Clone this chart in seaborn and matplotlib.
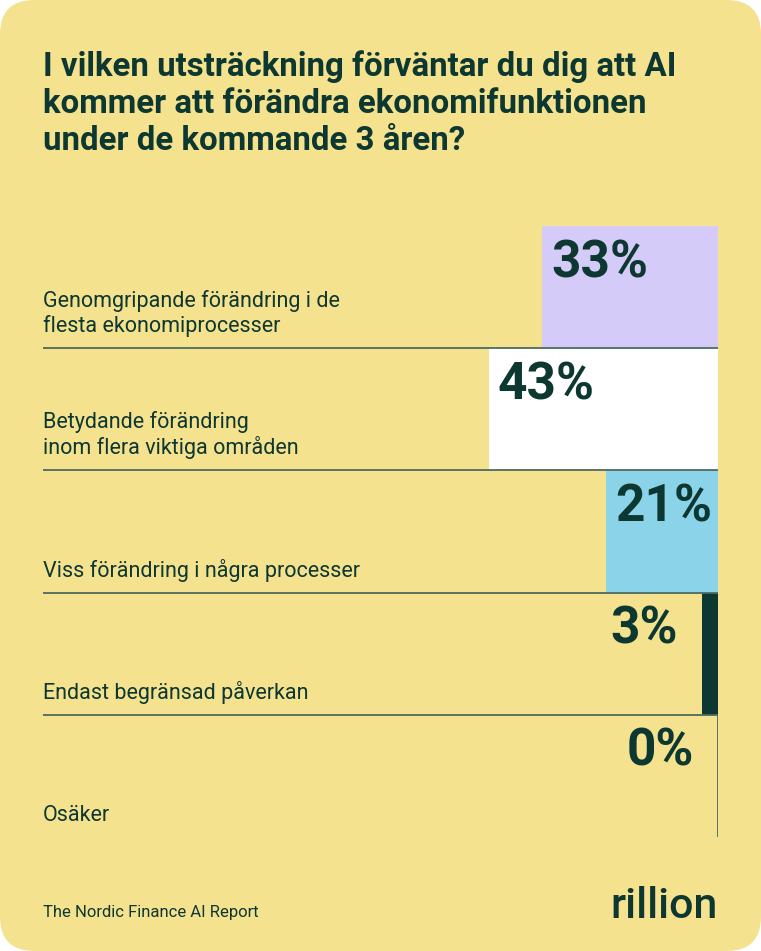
import matplotlib
matplotlib.use("Agg")
import matplotlib.pyplot as plt
from matplotlib.patches import FancyBboxPatch
import seaborn as sns
import pandas as pd

# ---- data ----
categories = [
    "Genomgripande förändring i de\nflesta ekonomiprocesser",
    "Betydande förändring\ninom flera viktiga områden",
    "Viss förändring i några processer",
    "Endast begränsad påverkan",
    "Osäker",
]
values = [33, 43, 21, 3, 0]
bar_colors = ["#D5CBF8", "#FFFFFF", "#8AD3E9", "#0D3731", "#0D3731"]
title = "I vilken utsträckning förväntar du dig att AI\nkommer att förändra ekonomifunktionen\nunder de kommande 3 åren?"
footer = "The Nordic Finance AI Report"
brand = "rillion"

BG = "#F5E28F"
DARK = "#0D3731"
LINE = "#4D6B60"

W, H = 761, 951
sns.set_theme(style="white")
plt.rcParams["font.family"] = ["Roboto", "DejaVu Sans"]

fig = plt.figure(figsize=(W / 100, H / 100), dpi=100)
fig.patch.set_facecolor("white")
card = FancyBboxPatch((0, 0), 1, 1, boxstyle="round,pad=0,rounding_size=0.045",
                      transform=fig.transFigure, facecolor=BG, edgecolor="none",
                      mutation_aspect=W / H, zorder=-10)
fig.patches.append(card)

x0, x1, ytop, ybot = 43, 718, 226, 837
ax = fig.add_axes([x0 / W, 1 - ybot / H, (x1 - x0) / W, (ybot - ytop) / H])
ax.set_facecolor("none")
ax.set_zorder(5)

df = pd.DataFrame({"category": categories, "value": values})
sns.barplot(data=df, y="category", x="value", hue="category", palette=bar_colors,
            orient="h", width=1.0, legend=False, ax=ax, saturation=1, linewidth=0)

xmax = (x1 - x0) / 5.33
ax.set_xlim(xmax, 0)
ax.set_ylim(len(values) - 0.5, -0.5)
for s in ax.spines.values():
    s.set_visible(False)
ax.set_xticks([])
ax.set_yticks([])
ax.set_xlabel("")
ax.set_ylabel("")

# separators and baseline
for i in range(len(values) - 1):
    ax.hlines(i + 0.5, xmax, 0, color=LINE, lw=1.3, zorder=3)
ax.vlines(0, -0.5, len(values) - 0.5, color=LINE, lw=1.3, zorder=0.5)

row_px = (ybot - ytop) / len(values)
for i, (cat, v) in enumerate(zip(categories, values)):
    # percent label
    yb = i - 0.5 + 51 / row_px
    if v >= 10:
        ax.text(v - 1.7, yb, f"{v}%", ha="left", va="baseline", fontsize=37,
                fontweight="bold", color=DARK, zorder=4)
    else:
        ax.text(v + 4.5, yb, f"{v}%", ha="right", va="baseline", fontsize=37,
                fontweight="bold", color=DARK, zorder=4)
    # category label
    ax.text(0, i + 0.5 - 16 / row_px, cat, transform=ax.get_yaxis_transform(),
            ha="left", va="baseline", fontsize=15.5, color=DARK, linespacing=1.2,
            zorder=4)

fig.text(43 / W, 1 - 150 / H, title, ha="left", va="baseline", fontsize=23.8,
         fontweight="bold", color=DARK, linespacing=1.2)
fig.text(43 / W, 1 - 917 / H, footer, ha="left", va="baseline", fontsize=12,
         color=DARK)
fig.text(718 / W, 1 - 918 / H, brand, ha="right", va="baseline", fontsize=31,
         color=DARK, fontweight="medium")

fig.savefig("out.png", dpi=100, facecolor="white")
